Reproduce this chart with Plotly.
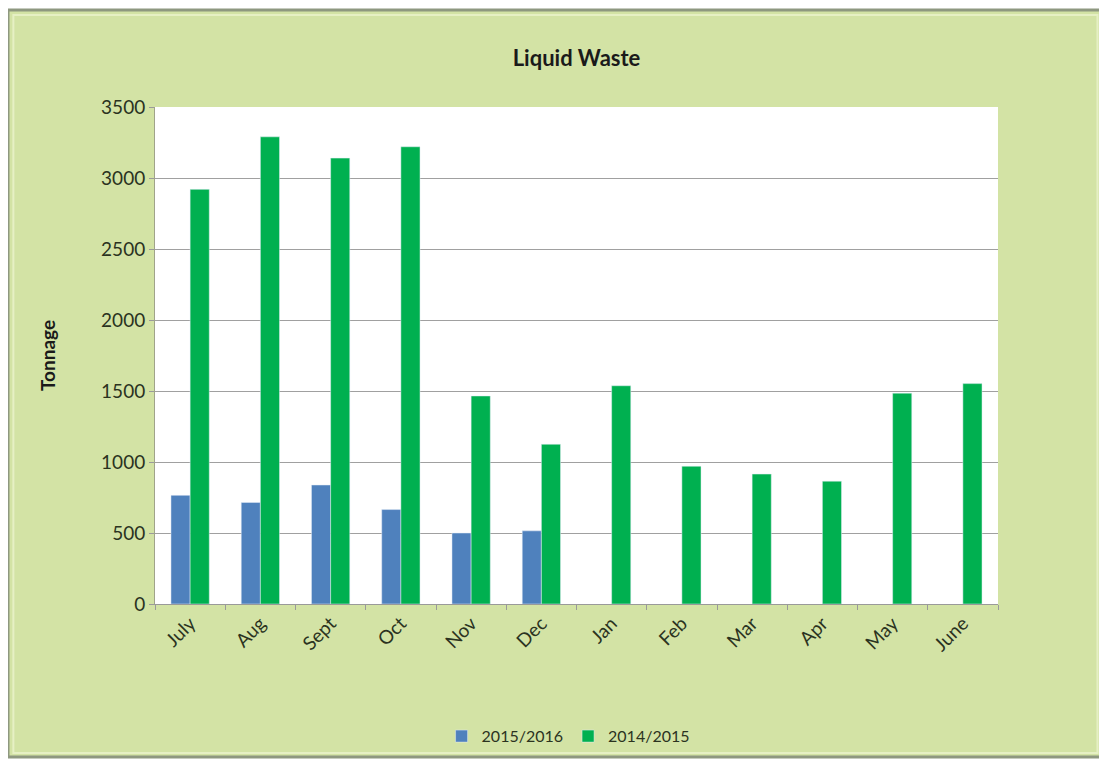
import plotly.graph_objects as go

months = ["July", "Aug", "Sept", "Oct", "Nov", "Dec", "Jan", "Feb", "Mar", "Apr", "May", "June"]
tonnage_2015_16 = [765, 715, 838, 665, 500, 515, None, None, None, None, None, None]
tonnage_2014_15 = [2920, 3290, 3140, 3220, 1465, 1125, 1537, 970, 915, 865, 1485, 1552]

TEXT = "#2b331f"
FONT = "Lato, 'Open Sans', sans-serif"

fig = go.Figure()
fig.add_trace(go.Bar(x=months, y=tonnage_2015_16, name="2015/2016", marker_color="#4f81bd"))
fig.add_trace(go.Bar(x=months, y=tonnage_2014_15, name="2014/2015", marker_color="#00b050"))

# green chart area with a grey frame, then the white plot area on top of it
fig.add_shape(type="rect", xref="paper", yref="paper",
              x0=-0.1744, x1=1.1246, y0=-0.308, y1=1.195,
              fillcolor="#d3e3a5", line=dict(color="#8e9880", width=3), layer="below")
fig.add_shape(type="rect", xref="paper", yref="paper",
              x0=-0.168, x1=1.118, y0=-0.300, y1=1.185,
              fillcolor="rgba(0,0,0,0)", line=dict(color="#e6f0c4", width=2), layer="below")
fig.add_shape(type="rect", xref="paper", yref="paper", x0=0, x1=1, y0=0, y1=1,
              fillcolor="white", line_width=0, layer="below")

# page body has an 8px margin, so the figure is a little smaller than the window
fig.update_layout(
    width=1099, height=757,
    margin=dict(l=147, r=109, t=99, b=161),
    paper_bgcolor="white", plot_bgcolor="white",
    font=dict(family=FONT, color=TEXT),
    title=dict(text="<b>Liquid Waste</b>", x=0.5, xref="paper", y=0.934, yanchor="middle",
               font=dict(size=22, color="#1a1a1a")),
    barmode="group", bargap=0.455, bargroupgap=0,
    legend=dict(orientation="h", x=0.49, xanchor="center", y=-0.266, yanchor="middle",
                font=dict(size=16, color=TEXT), bgcolor="rgba(0,0,0,0)", itemwidth=30),
    xaxis=dict(tickangle=-45, tickfont=dict(size=19), showline=True, linecolor="#9a9a9a",
               ticks="outside", tickson="boundaries", ticklen=5, tickcolor="#9a9a9a",
               showgrid=False, automargin=False),
    yaxis=dict(range=[0, 3500], dtick=500, tickfont=dict(size=19), showline=True,
               linecolor="#a0a38a", ticks="outside", ticklen=5, tickcolor="#9a9a9a",
               gridcolor="#a0a0a0", gridwidth=1, zeroline=False, automargin=False,
               title=dict(text="<b>Tonnage</b>", font=dict(size=19, color="#1a1a1a"), standoff=40)),
)

fig.write_html("out.html")
